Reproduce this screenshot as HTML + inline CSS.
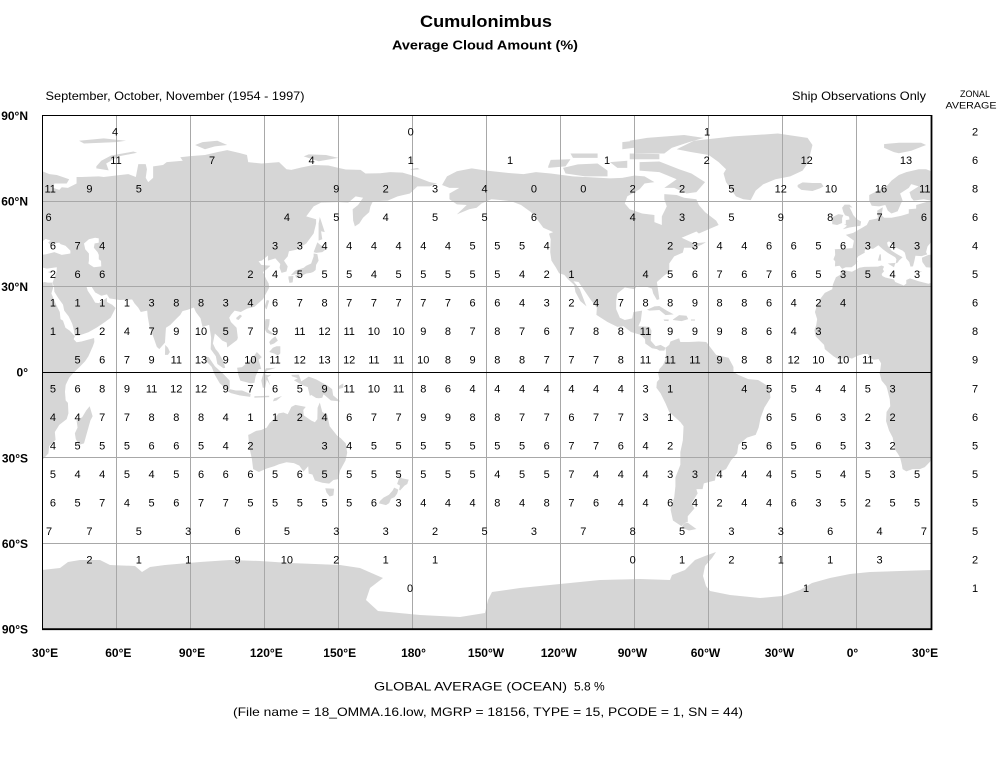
<!DOCTYPE html>
<html><head><meta charset="utf-8"><title>Cumulonimbus</title>
<style>
html,body{margin:0;padding:0;background:#fff;}
svg{display:block;}
text{font-family:"Liberation Sans",Arial,sans-serif;}
.n{font-size:11px;fill:#000;text-anchor:middle;}
.b{font-size:12px;font-weight:bold;fill:#000;}
.land{fill:#d6d6d6;}
</style></head>
<body>
<svg width="998" height="760" viewBox="0 0 998 760" xmlns="http://www.w3.org/2000/svg">
<defs>
<clipPath id="mc"><rect x="42" y="115" width="889" height="514"/></clipPath>
<g id="world" class="land">
<polygon points="-168,65.5 -166,68.5 -162,70.3 -156,71.3 -150,70.5 -141,69.7 -135,69.3 -130,70 -124,69.5 -115,68.5 -108,68.2 -100,67.8 -95,68 -90,68.8 -86,68.5 -82,66.5 -86,66 -88,64 -93,61.5 -94,59 -92,57 -87,55.5 -82,55 -82,52.5 -79,51.5 -79,54.5 -77,58 -78,60.5 -78,62.3 -73,62 -70,61 -65,60.5 -64,58.5 -61.5,56 -57,53 -56,51.5 -60,50 -64,48.5 -65,49.2 -71,47 -66,45 -61,45.5 -60,46 -63,44.5 -66,43.5 -70,43.5 -70.5,41.8 -74,40.5 -76,38 -76,35 -78,33.8 -81,31.5 -80.5,28.5 -80,25.5 -81,25.2 -82.5,27.5 -83,29.2 -85,29.8 -89,30.2 -90,29 -94,29.6 -97,27.5 -97.5,25 -97.5,22 -96,19 -94,18.2 -91,18.8 -90.5,21 -87,21.5 -87.5,18 -88.5,16 -84,15.8 -83.2,14.5 -83.5,11 -81.5,9 -79.5,9.5 -77.5,8.5 -78,7.5 -80,7.5 -81,8 -83,8.3 -85.7,10 -85.8,11.5 -87.5,13 -91.5,14 -94.5,16 -97,15.8 -101,17.5 -105.5,20 -105.3,22.5 -108,25.5 -112.7,31.5 -114.8,31.8 -112.2,29 -110,24 -109.5,23 -112,24.8 -114,28 -114.5,30.5 -117,32.5 -118.5,34 -120.6,34.6 -121.9,36.6 -123.7,39 -124.2,42 -124,46.5 -124.7,48.4 -123,49 -127,50.5 -130,54 -132,56 -136,58.5 -140,59.8 -144,60.2 -148,60.5 -152,59 -154,57.5 -157,57 -162,55.2 -158,58.5 -162,58.7 -165,60.5 -165,62.5 -161,64.5 -165,64.5"/>
<polygon points="-73,78 -66,81 -50,82.5 -32,83.5 -20,82 -18,79.5 -19,76 -20,73 -22,70.5 -27,68.5 -33,67.5 -38,65.7 -41,63.5 -43,60.2 -46,60.5 -49,61.5 -51,64 -53,66.5 -54,69.5 -53,71 -56,73.5 -60,76 -67,77"/>
<polygon points="-61.5,66.5 -65,63 -69,62.5 -74,64.5 -78,64.5 -73,67.5 -80,70 -88,70.5 -88,73.5 -80,73.7 -72,71 -67,69.5"/>
<polygon points="-118,69.5 -110,68.5 -101,68.5 -101,70.5 -105,73 -113,72.7 -119,71.5"/>
<polygon points="-125,72 -124,74.3 -116,74.5 -118,72 -125,71.5"/>
<polygon points="-90,76.5 -78,76.5 -75,78.5 -68,80.5 -62,82 -70,83 -85,82 -92,81 -90,78"/>
<polygon points="-92,74.5 -80,74.5 -80,76.3 -92,76.5"/>
<polygon points="-97,71.5 -93,71.5 -93,74 -100,73.5"/>
<polygon points="-115,75 -105,75 -105,76.5 -116,76.5"/>
<polygon points="-95,78 -86,79 -90,81 -95,80.5"/>
<polygon points="-77.5,8.5 -76,9.5 -75.5,10.7 -72,11.8 -71.5,10.5 -68,10.5 -64,10.7 -61,10.5 -57,6 -52,5 -50,1.8 -50,0 -48,-1 -44,-2.5 -40,-2.8 -35.5,-5.2 -35,-9 -37.5,-12.5 -39,-16 -39.8,-19.5 -41,-22 -44.5,-23 -48,-25.5 -48.5,-28.5 -51,-31 -53,-34 -57,-35.5 -57.5,-38 -62,-39 -62.5,-41 -65,-41 -64.5,-42.5 -67,-46 -65.8,-47.8 -68.5,-50.5 -68.5,-52.5 -70,-53 -71,-54 -74.5,-52 -75.5,-48 -74,-44 -73.5,-40 -73.5,-37 -71.5,-32.5 -71.5,-28 -70.5,-24 -70.2,-19 -71.5,-17.5 -76,-14 -77.5,-11 -79.5,-7.5 -81.2,-5.5 -81,-3.5 -80,-2.5 -80.5,-0.5 -80,1 -78.5,2.5 -77.5,4.5 -77.3,7"/>
<polygon points="-68.5,-52.8 -65,-55 -68,-55.5 -71,-54.5 -70,-53"/>
<polygon points="-85,21.8 -82,23 -80,23.1 -77,21.5 -74.2,20.2 -77.5,19.9 -80,21.7 -84,21.5"/>
<polygon points="-74.5,18.4 -72,19.9 -69,19.7 -68.3,18.5 -71,17.8 -74.5,18.2"/>
<polygon points="-78.3,18.4 -76.2,18.4 -76.3,17.8 -78,17.9"/>
<polygon points="-67.2,18.4 -65.6,18.4 -65.6,18 -67.2,18"/>
<polygon points="-24,65.5 -22,66.4 -18,66.2 -14.5,66.2 -13.5,65 -15,64.3 -18,63.4 -22.5,63.8 -24,64.8"/>
<polygon points="-5.7,50 -3,50.6 1.4,51.2 1.7,52.7 0,53.5 -1.5,55 -2,56 -3,57.7 -1.8,57.6 -3,58.6 -5,58.6 -6,57.5 -5.5,56 -4.8,54.9 -3.2,54.4 -3,53.4 -4.5,53.2 -4.5,51.7 -5.3,51.7 -4,51.2"/>
<polygon points="-6,52.2 -6,53.9 -5.5,55 -7.5,55.3 -10,54.2 -10,51.8 -8,51.5"/>
<polygon points="-9,43 -1.8,43.4 -1.2,46 -4.5,48 -1.5,48.7 1.5,50.2 4,51.5 5,53.2 8.5,53.8 8.2,56.5 10.5,57.7 10,55 11,54 14,54 18,54.7 21,55.5 21,57 24,57.2 24,58.5 28,59.5 30,60 27,60.5 23,60 22,61 21.3,63 25,65 22,65.8 21,64.5 17.5,62.5 18.5,60 18,59.3 16.5,56.3 14,55.5 12.5,56.5 11.5,58.5 9,58 6,58.2 5,60 5,62 8,63.3 12,65 14,67 17,69 20,70 25,71 28,71 31,70 33,69.3 36,69 41,67.5 40,66 35,66 34.5,64.5 37,63.8 38,64.7 40.5,64.5 44,66 44,68.3 46,68.3 53,68.5 55,68.3 60,68.8 65,69.3 68,68.3 69,72.8 72,72.8 72.5,71 72,68 73,66.5 75,68 75,72 79,72.5 80.5,73.5 87,74 86,75.2 90,75.6 96,76 101,77 105,77.7 110,76.7 113,76 113.5,73.5 119,73 126,73.5 129,71 131,70.8 135,71.6 140,72.5 146,72.3 150,71.5 153,70.9 159,70.8 161,69.5 167,69.6 171,70 176,69.8 180,68.8 184,67.5 187,66.5 190,66 187,65 182,65 179,62.5 174,61.5 170,60 164,59.8 163,58 162.5,56 160,54 158.5,52 156.7,51 156,53 155.8,57 158,58.5 160,61 157,61.5 154,59.3 150,59.5 143,59.3 140,58 137,54.5 141,53.5 141,52 140,48.5 137,45 133,42.8 130,42.3 129.5,40.5 128,39 129.5,37 129,35.2 127,34.7 126.2,36.5 126.5,37.8 124.5,39.8 121.5,39 121.5,40.8 119,39 117.7,38.8 118.8,37.5 122.5,37.2 121,36 119.5,35 120.8,32.5 121.8,31 122,29.5 119.5,25.5 116,22.8 113,22.2 110.5,21 108,21.5 106.5,20 105.8,19 106.5,17.5 108.8,15.5 109.3,12 109,11.2 105,8.6 104.8,10.3 103,11 101,12.7 100,13.5 99.2,10 100.3,8 101.5,6.8 103.3,4 104.2,1.5 103.5,1.3 101,2.8 100.4,5.5 98.3,8 98.5,12 97.7,16.5 95,15.8 94.2,18.8 92.3,21 91.5,22.6 89,21.8 86.9,21.3 86,20 84,18.3 82,16.5 80.2,15.5 80,13 79.8,10.3 77.5,8 76.5,8.8 75,12.5 73.5,16 72.8,19.5 72.6,21.5 70,21 69,22.5 67.5,24 66.5,25.4 61.5,25.2 57.3,25.8 56.3,27.2 54,26.7 51.5,27.9 50,30 48,30 48.5,28.5 50.2,26.3 51.5,24.3 53,24.1 56.3,26 56.3,24.5 58.5,23.5 59.8,22.4 57.8,19 55.5,17.5 52.2,15.6 48.8,13.9 45,12.8 43.3,12.7 42.7,15.5 42.2,17 40.8,19.5 39,21.5 38.5,23.6 36.5,26 35,28.1 34.9,29.5 34.3,31.3 35,33 35.9,35 36,36.7 32,36.2 30.5,36.5 28,36.7 26.5,38.5 26.3,40 29,41 31.5,41.2 35,42 38,41 41.5,41.5 41.5,42.5 39.5,44.2 37.5,44.8 37,45.3 35.5,45.1 33.5,44.4 32.5,45.4 33.5,46 31.5,46.6 30.2,45.8 29.6,45 28.6,44 28,42 28.5,41.2 26.2,40.6 23.7,40.7 23.3,39 22.7,37 21.7,36.9 21.2,38.5 20,39.7 19.4,41.8 18.5,42.5 16,43.5 13.8,45.1 13,45.8 12.2,45.3 12.5,44.2 14,42.5 16,41.4 18.5,40.2 17,39 16.6,38.4 15.7,38 16,39.5 15.5,40.2 12.5,41.7 10.5,43 8.7,44.4 6.5,43.1 4,43.5 3.1,42.4 3.2,41.8 0.5,40.5 -0.3,39.4 0.2,38.7 -0.7,37.6 -2.2,36.7 -4.5,36.7 -6,36.1 -7,37.2 -8.9,37 -8.8,38.7 -9.5,39.5 -8.8,41 -8.9,42.7"/>
<polygon points="52,71.3 57,70.6 56,73 61,75.5 68.5,76.8 67,77.2 58,75.8 54,74 52,72"/>
<polygon points="96,78 100,79 105,79.5 101,81 95,80.5 92,79.5"/>
<polygon points="11,78.5 15,77 17,76.6 22,77.5 28,79.5 26,80.3 17,80.3 11,79.8"/>
<polygon points="47,80 60,80.5 64,81 55,81.8 45,81"/>
<polygon points="136,75.5 142,73.8 150,75 145,76 138,76.2"/>
<polygon points="179,71 182,71.5 183,71 180,70.8"/>
<polygon points="130.9,34 132.5,35.5 136,36.5 137,37.2 139,38 140,40.5 140,41.5 141.5,41.3 142,39 141,37.5 140.8,35.7 139.8,35 138.8,34.7 137,34.5 135,33.6 133,34.3 131,33.9"/>
<polygon points="129.8,33.5 131.8,33.6 131.5,31.4 130.2,31.2 129.8,32.8"/>
<polygon points="132.5,33.9 134.5,34.2 134.5,33.3 133,33"/>
<polygon points="140,42 141.5,45.4 143,44.3 145.5,43.3 143.5,42 141,41.7"/>
<polygon points="142,46 143.5,46.5 143,49.3 144.5,49 143,53 142.5,54.3 142,52 142,49"/>
<polygon points="120.2,23 121,25.2 122,25 121,22 120.7,22"/>
<polygon points="108.7,19 110.2,20.1 111,19.6 109.6,18.2 108.7,18.5"/>
<polygon points="79.8,6 79.9,9.5 81,8.5 81.8,7 81,6"/>
<polygon points="120,16 120.5,18.5 122.2,18.5 122,16.5 121.5,15 124,13 122.5,13.2 121,13.8 120.5,14.5"/>
<polygon points="122,7 123.5,8.5 125,9 126.5,9 126.5,6.5 125.5,5.8 124,6.5"/>
<polygon points="122,10.5 123,11.5 124.5,12.5 125.5,11 124,10 122.5,9.5"/>
<polygon points="95.3,5.5 97.5,5.2 100,2 103.8,-1 106,-3 106,-5.8 104.5,-5.8 102,-4 100,-1 98.7,1.8 96.5,3.8"/>
<polygon points="105.2,-6.8 106,-6 108.5,-6.5 111,-6.5 114.5,-7.7 114.3,-8.7 110,-8.2 106.5,-7.4"/>
<polygon points="109,1.5 109.5,-1 110.3,-3 114.5,-4 116,-3.8 116.5,-1.5 117.8,1 118.8,1 117.7,4.3 119,5.2 117,7 115.5,5.2 113,3.2 111,1.7"/>
<polygon points="119.4,-5.5 118.8,-3 119.8,0 120.7,1.3 124.8,1.5 121,0.5 120.2,-0.8 121.5,-1.1 123,-0.9 121.3,-1.9 122.5,-4.8 121,-2.7 120.4,-5.5"/>
<polygon points="131,-1 134,-0.9 135,-3.3 138,-1.6 141,-2.6 145.7,-4.8 147.5,-6 147.9,-8.2 150.8,-10.3 147,-10 144,-7.8 143.5,-9 142.2,-9.2 141,-9.1 139,-8 138.5,-8.4 137.6,-5.3 135.2,-4.5 132,-2.9 133.6,-2.2 131.2,-1.5"/>
<polygon points="124,-9.3 127.2,-8.4 125,-10 123.5,-10.3"/>
<polygon points="116,-8.5 122,-8.3 122,-8.8 116,-9"/>
<polygon points="150,-5 152,-4 152,-5.5 150,-6"/>
<polygon points="113.5,-22 114,-26.5 115,-30.5 115.5,-34 117.8,-35 121,-33.8 124,-33 126,-32.3 129,-31.6 132,-31.9 134.2,-32.8 135.9,-34.9 137.8,-33 138,-35.6 139.5,-35.9 140.5,-38 143.5,-38.8 146.3,-39.1 148,-37.8 150,-37.5 150.7,-34.5 152.9,-31 153.6,-28.3 153,-25 151,-23.2 149.5,-22.3 146.5,-19 145.5,-15 143.5,-14 142.5,-10.7 141.6,-12.5 141.5,-16.5 140.5,-17.6 139,-17 136,-15.2 135.8,-13.3 136.8,-12.2 132.6,-11.5 131,-12.2 129.5,-14.8 127.8,-14.2 125.8,-14.5 124,-16.4 122.2,-17.8 121,-19.5 118.8,-20.3 116.7,-20.6 114.2,-21.8"/>
<polygon points="144.7,-40.7 148.3,-40.9 148,-43.2 146.5,-43.6 145.2,-42.2"/>
<polygon points="172.7,-34.4 174.5,-36 175.7,-37.2 178.5,-37.7 177.9,-39.2 176.8,-39.8 175,-41.5 174.6,-41.2 175,-39.8 173.8,-39.2 174.6,-37.2"/>
<polygon points="172.6,-40.5 174.3,-41.2 173.8,-42.6 172.8,-43.8 171.3,-44.4 170.6,-45.9 169.3,-46.6 166.5,-46 166.8,-45.2 168.3,-44 170.5,-43 172,-41.5"/>
<polygon points="49.3,-12 50.5,-15.5 49.6,-17 47,-25 45,-25.5 43.7,-23.5 43.3,-21.5 44.4,-19.5 44,-17 46.3,-15.8 47.9,-13.5"/>
<polygon points="-5.9,35.8 -2,35.1 1,36.5 3,36.8 8.5,36.9 10,37.3 11,36.9 10.5,36 11,35.3 10,34.3 10.3,33.6 11.5,33.1 15,32.4 15.5,31.5 19,30.3 20,31 20,32.2 21.5,32.8 25,31.8 29,30.9 31,31.5 32.3,31.3 34.2,31.3 34.5,29.5 33.8,27.5 35.5,24 37.2,21 37.5,18.5 38.5,18 39.5,15.5 41.2,14.5 43.3,12.5 42.8,11.5 44,10.4 46,10.7 51.1,11.9 51.2,10.5 50.6,9 48.8,5.5 47.5,3.8 45.5,2 42.5,-0.5 41,-2 39.6,-4.5 39.3,-6.9 39.6,-10 40.5,-10.8 40.7,-14.5 40,-16.5 37,-18.5 35.2,-21 35.5,-23.8 32.9,-25.9 32.6,-28.5 31,-30 29.5,-31.5 27.5,-33.3 25.5,-34 22.5,-34 20,-34.8 18.5,-34 18.2,-32.5 17.5,-30 16.5,-28.5 15.3,-27 14.5,-23 13,-20.5 11.8,-17.2 12,-14 13.5,-12 13.3,-9.5 12.3,-6.1 11.9,-5 10,-3 9.2,-0.5 9.5,1 9.8,3 8.8,4.5 6.8,4.3 5.5,4.9 4.5,6.3 2.5,6.3 0,5.6 -2,4.7 -4,5.2 -7.5,4.4 -9.5,5.5 -11.5,6.9 -13,8 -13.3,9.5 -15,11 -16.7,12.5 -17.2,14.7 -16.5,16.3 -16.1,18.5 -16.5,19.6 -17,21 -16,23.8 -14.5,26 -13,27.7 -10,29 -9.7,30.7 -8.5,33.2 -6.8,34"/>
<polygon points="8.5,39 9.8,39 9.7,41.2 9.2,41.2"/>
<polygon points="12.5,38 15.6,38.2 15,36.7"/>
<polygon points="23.5,35.3 26.3,35.2 26,35 23.6,35"/>
<polygon points="32.3,35 34.6,35.6 33.5,34.6"/>
<polygon points="47,45 49,46.5 51.5,47 53,46.8 53,45.3 51.3,45 51,43.5 52.5,42 53,41 53,39.5 53.9,38.9 54,37 51,36.7 49.5,37.5 48.8,38 49,39 49,41.5 47.5,43" fill="#fff"/>
</g>
</defs>

<rect width="998" height="760" fill="#fff"/>

<g clip-path="url(#mc)">
<use href="#world" transform="matrix(2.46944 0 0 -2.85556 -32.083 372)"/>
<use href="#world" transform="matrix(2.46944 0 0 -2.85556 856.917 372)"/>
<polygon class="land" points="42,570 60,568 68,562 80,560 100,560 110,565 135,566 142,572 150,567 165,565 200,562 230,560 260,561 290,563 340,565 360,568 383,578 370,588 366,600 378,611 420,615 460,617 485,613 488,600 492,592 520,588 560,584 600,580 640,579 670,580 672,575 685,570 695,560 705,556 716,552 712,558 705,566 703,576 706,586 710,591 730,595 760,598 782,596 800,590 812,583 830,578 850,574 870,572 931,570 931,629 42,629"/>
<polygon fill="#fff" points="455,598 470,597 478,602 462,604"/>
</g>

<g stroke="#a8a8a8" stroke-width="1" fill="none">
<path d="M116.5 115V629M190.5 115V629M264.5 115V629M338.5 115V629M412.5 115V629M486.5 115V629M560.5 115V629M634.5 115V629M708.5 115V629M782.5 115V629M856.5 115V629"/>
<path d="M42 201.5H931M42 286.5H931M42 457.5H931M42 543.5H931"/>
</g>
<path d="M42 372.5H931" stroke="#000" stroke-width="1"/>
<path d="M42.5 629V115.5H931" stroke="#000" stroke-width="1" fill="none"/>
<path d="M931.5 115V629.2H42" stroke="#000" stroke-width="1.8" fill="none"/>

<text x="486" y="27" font-size="17" font-weight="bold" text-anchor="middle" textLength="132" lengthAdjust="spacingAndGlyphs">Cumulonimbus</text>
<text x="485" y="49.5" font-size="13" font-weight="bold" text-anchor="middle" textLength="186" lengthAdjust="spacingAndGlyphs">Average Cloud Amount (%)</text>

<text x="45.5" y="100" font-size="12" textLength="259" lengthAdjust="spacingAndGlyphs">September, October, November (1954 - 1997)</text>
<text x="792" y="100" font-size="12" textLength="134" lengthAdjust="spacingAndGlyphs">Ship Observations Only</text>
<text x="975" y="97" font-size="9" text-anchor="middle" textLength="30" lengthAdjust="spacingAndGlyphs">ZONAL</text>
<text x="971" y="108.5" font-size="9" text-anchor="middle" textLength="51" lengthAdjust="spacingAndGlyphs">AVERAGE</text>

<g class="b" text-anchor="end">
<text x="28" y="120">90°N</text>
<text x="28" y="205.3">60°N</text>
<text x="28" y="291">30°N</text>
<text x="28" y="376.6">0°</text>
<text x="28" y="462.6">30°S</text>
<text x="28" y="547.8">60°S</text>
<text x="28" y="633.3">90°S</text>
</g>
<g class="b" text-anchor="middle">
<text x="45" y="657">30°E</text>
<text x="118.3" y="657">60°E</text>
<text x="192" y="657">90°E</text>
<text x="266.3" y="657">120°E</text>
<text x="339.7" y="657">150°E</text>
<text x="413.5" y="657">180°</text>
<text x="486" y="657">150°W</text>
<text x="558.8" y="657">120°W</text>
<text x="632.5" y="657">90°W</text>
<text x="705.5" y="657">60°W</text>
<text x="779.5" y="657">30°W</text>
<text x="852.5" y="657">0°</text>
<text x="925" y="657">30°E</text>
</g>

<text x="374" y="690.5" font-size="12" textLength="193" lengthAdjust="spacingAndGlyphs">GLOBAL AVERAGE (OCEAN)</text>
<text x="574" y="690.5" font-size="12">5.8 %</text>
<text x="233" y="716" font-size="12" textLength="510" lengthAdjust="spacingAndGlyphs">(File name = 18_OMMA.16.low, MGRP = 18156, TYPE = 15, PCODE = 1, SN = 44)</text>

<g class="n">
<text x="975" y="135.3">2</text>
<text x="975" y="163.8">6</text>
<text x="975" y="192.4">8</text>
<text x="975" y="220.9">6</text>
<text x="975" y="249.5">4</text>
<text x="975" y="278.1">5</text>
<text x="975" y="306.6">6</text>
<text x="975" y="335.2">8</text>
<text x="975" y="363.7">9</text>
<text x="975" y="392.3">7</text>
<text x="975" y="420.9">6</text>
<text x="975" y="449.4">5</text>
<text x="975" y="478">5</text>
<text x="975" y="506.6">5</text>
<text x="975" y="535.1">5</text>
<text x="975" y="563.7">2</text>
<text x="975" y="592.2">1</text>
</g>

<g class="n">
<text y="135.3"><tspan x="115">4</tspan><tspan x="410.7">0</tspan><tspan x="707">1</tspan></text>
<text y="163.8"><tspan x="116">11</tspan><tspan x="212">7</tspan><tspan x="311.5">4</tspan><tspan x="410.7">1</tspan><tspan x="510">1</tspan><tspan x="607">1</tspan><tspan x="706.7">2</tspan><tspan x="806.7">12</tspan><tspan x="906">13</tspan></text>
<text y="192.4"><tspan x="89.4">9</tspan><tspan x="138.8">5</tspan><tspan x="336.3">9</tspan><tspan x="385.7">2</tspan><tspan x="435.1">3</tspan><tspan x="484.5">4</tspan><tspan x="533.9">0</tspan><tspan x="583.3">0</tspan><tspan x="632.7">2</tspan><tspan x="682.1">2</tspan><tspan x="731.4">5</tspan><tspan x="780.8">12</tspan><tspan x="831">10</tspan><tspan x="881">16</tspan></text>
<text y="220.9"><tspan x="286.9">4</tspan><tspan x="336.3">5</tspan><tspan x="385.7">4</tspan><tspan x="435.1">5</tspan><tspan x="484.5">5</tspan><tspan x="533.9">6</tspan><tspan x="632.7">4</tspan><tspan x="682.1">3</tspan><tspan x="731.4">5</tspan><tspan x="780.8">9</tspan><tspan x="830.2">8</tspan><tspan x="879.6">7</tspan></text>
<text y="249.5"><tspan x="52.9">6</tspan><tspan x="77.5">7</tspan><tspan x="102.2">4</tspan><tspan x="275.1">3</tspan><tspan x="299.8">3</tspan><tspan x="324.5">4</tspan><tspan x="349.2">4</tspan><tspan x="373.9">4</tspan><tspan x="398.6">4</tspan><tspan x="423.3">4</tspan><tspan x="447.9">4</tspan><tspan x="472.6">5</tspan><tspan x="497.3">5</tspan><tspan x="522">5</tspan><tspan x="546.7">4</tspan><tspan x="670.2">2</tspan><tspan x="694.9">3</tspan><tspan x="719.6">4</tspan><tspan x="744.3">4</tspan><tspan x="769">6</tspan><tspan x="793.7">6</tspan><tspan x="818.4">5</tspan><tspan x="843.1">6</tspan><tspan x="867.8">3</tspan><tspan x="892.5">4</tspan><tspan x="917.1">3</tspan></text>
<text y="278.1"><tspan x="52.9">2</tspan><tspan x="77.5">6</tspan><tspan x="102.2">6</tspan><tspan x="250.4">2</tspan><tspan x="275.1">4</tspan><tspan x="299.8">5</tspan><tspan x="324.5">5</tspan><tspan x="349.2">5</tspan><tspan x="373.9">4</tspan><tspan x="398.6">5</tspan><tspan x="423.3">5</tspan><tspan x="447.9">5</tspan><tspan x="472.6">5</tspan><tspan x="497.3">5</tspan><tspan x="522">4</tspan><tspan x="546.7">2</tspan><tspan x="571.4">1</tspan><tspan x="645.5">4</tspan><tspan x="670.2">5</tspan><tspan x="694.9">6</tspan><tspan x="719.6">7</tspan><tspan x="744.3">6</tspan><tspan x="769">7</tspan><tspan x="793.7">6</tspan><tspan x="818.4">5</tspan><tspan x="843.1">3</tspan><tspan x="867.8">5</tspan><tspan x="892.5">4</tspan><tspan x="917.1">3</tspan></text>
<text y="306.6"><tspan x="52.9">1</tspan><tspan x="77.5">1</tspan><tspan x="102.2">1</tspan><tspan x="126.9">1</tspan><tspan x="151.6">3</tspan><tspan x="176.3">8</tspan><tspan x="201">8</tspan><tspan x="225.7">3</tspan><tspan x="250.4">4</tspan><tspan x="275.1">6</tspan><tspan x="299.8">7</tspan><tspan x="324.5">8</tspan><tspan x="349.2">7</tspan><tspan x="373.9">7</tspan><tspan x="398.6">7</tspan><tspan x="423.3">7</tspan><tspan x="447.9">7</tspan><tspan x="472.6">6</tspan><tspan x="497.3">6</tspan><tspan x="522">4</tspan><tspan x="546.7">3</tspan><tspan x="571.4">2</tspan><tspan x="596.1">4</tspan><tspan x="620.8">7</tspan><tspan x="645.5">8</tspan><tspan x="670.2">8</tspan><tspan x="694.9">9</tspan><tspan x="719.6">8</tspan><tspan x="744.3">8</tspan><tspan x="769">6</tspan><tspan x="793.7">4</tspan><tspan x="818.4">2</tspan><tspan x="843.1">4</tspan></text>
<text y="335.2"><tspan x="52.9">1</tspan><tspan x="77.5">1</tspan><tspan x="102.2">2</tspan><tspan x="126.9">4</tspan><tspan x="151.6">7</tspan><tspan x="176.3">9</tspan><tspan x="201">10</tspan><tspan x="225.7">5</tspan><tspan x="250.4">7</tspan><tspan x="275.1">9</tspan><tspan x="299.8">11</tspan><tspan x="324.5">12</tspan><tspan x="349.2">11</tspan><tspan x="373.9">10</tspan><tspan x="398.6">10</tspan><tspan x="423.3">9</tspan><tspan x="447.9">8</tspan><tspan x="472.6">7</tspan><tspan x="497.3">8</tspan><tspan x="522">7</tspan><tspan x="546.7">6</tspan><tspan x="571.4">7</tspan><tspan x="596.1">8</tspan><tspan x="620.8">8</tspan><tspan x="645.5">11</tspan><tspan x="670.2">9</tspan><tspan x="694.9">9</tspan><tspan x="719.6">9</tspan><tspan x="744.3">8</tspan><tspan x="769">6</tspan><tspan x="793.7">4</tspan><tspan x="818.4">3</tspan></text>
<text y="363.7"><tspan x="77.5">5</tspan><tspan x="102.2">6</tspan><tspan x="126.9">7</tspan><tspan x="151.6">9</tspan><tspan x="176.3">11</tspan><tspan x="201">13</tspan><tspan x="225.7">9</tspan><tspan x="250.4">10</tspan><tspan x="275.1">11</tspan><tspan x="299.8">12</tspan><tspan x="324.5">13</tspan><tspan x="349.2">12</tspan><tspan x="373.9">11</tspan><tspan x="398.6">11</tspan><tspan x="423.3">10</tspan><tspan x="447.9">8</tspan><tspan x="472.6">9</tspan><tspan x="497.3">8</tspan><tspan x="522">8</tspan><tspan x="546.7">7</tspan><tspan x="571.4">7</tspan><tspan x="596.1">7</tspan><tspan x="620.8">8</tspan><tspan x="645.5">11</tspan><tspan x="670.2">11</tspan><tspan x="694.9">11</tspan><tspan x="719.6">9</tspan><tspan x="744.3">8</tspan><tspan x="769">8</tspan><tspan x="793.7">12</tspan><tspan x="818.4">10</tspan><tspan x="843.1">10</tspan><tspan x="867.8">11</tspan></text>
<text y="392.3"><tspan x="52.9">5</tspan><tspan x="77.5">6</tspan><tspan x="102.2">8</tspan><tspan x="126.9">9</tspan><tspan x="151.6">11</tspan><tspan x="176.3">12</tspan><tspan x="201">12</tspan><tspan x="225.7">9</tspan><tspan x="250.4">7</tspan><tspan x="275.1">6</tspan><tspan x="299.8">5</tspan><tspan x="324.5">9</tspan><tspan x="349.2">11</tspan><tspan x="373.9">10</tspan><tspan x="398.6">11</tspan><tspan x="423.3">8</tspan><tspan x="447.9">6</tspan><tspan x="472.6">4</tspan><tspan x="497.3">4</tspan><tspan x="522">4</tspan><tspan x="546.7">4</tspan><tspan x="571.4">4</tspan><tspan x="596.1">4</tspan><tspan x="620.8">4</tspan><tspan x="645.5">3</tspan><tspan x="670.2">1</tspan><tspan x="744.3">4</tspan><tspan x="769">5</tspan><tspan x="793.7">5</tspan><tspan x="818.4">4</tspan><tspan x="843.1">4</tspan><tspan x="867.8">5</tspan><tspan x="892.5">3</tspan></text>
<text y="420.9"><tspan x="52.9">4</tspan><tspan x="77.5">4</tspan><tspan x="102.2">7</tspan><tspan x="126.9">7</tspan><tspan x="151.6">8</tspan><tspan x="176.3">8</tspan><tspan x="201">8</tspan><tspan x="225.7">4</tspan><tspan x="250.4">1</tspan><tspan x="275.1">1</tspan><tspan x="299.8">2</tspan><tspan x="324.5">4</tspan><tspan x="349.2">6</tspan><tspan x="373.9">7</tspan><tspan x="398.6">7</tspan><tspan x="423.3">9</tspan><tspan x="447.9">9</tspan><tspan x="472.6">8</tspan><tspan x="497.3">8</tspan><tspan x="522">7</tspan><tspan x="546.7">7</tspan><tspan x="571.4">6</tspan><tspan x="596.1">7</tspan><tspan x="620.8">7</tspan><tspan x="645.5">3</tspan><tspan x="670.2">1</tspan><tspan x="769">6</tspan><tspan x="793.7">5</tspan><tspan x="818.4">6</tspan><tspan x="843.1">3</tspan><tspan x="867.8">2</tspan><tspan x="892.5">2</tspan></text>
<text y="449.4"><tspan x="52.9">4</tspan><tspan x="77.5">5</tspan><tspan x="102.2">5</tspan><tspan x="126.9">5</tspan><tspan x="151.6">6</tspan><tspan x="176.3">6</tspan><tspan x="201">5</tspan><tspan x="225.7">4</tspan><tspan x="250.4">2</tspan><tspan x="324.5">3</tspan><tspan x="349.2">4</tspan><tspan x="373.9">5</tspan><tspan x="398.6">5</tspan><tspan x="423.3">5</tspan><tspan x="447.9">5</tspan><tspan x="472.6">5</tspan><tspan x="497.3">5</tspan><tspan x="522">5</tspan><tspan x="546.7">6</tspan><tspan x="571.4">7</tspan><tspan x="596.1">7</tspan><tspan x="620.8">6</tspan><tspan x="645.5">4</tspan><tspan x="670.2">2</tspan><tspan x="744.3">5</tspan><tspan x="769">6</tspan><tspan x="793.7">5</tspan><tspan x="818.4">6</tspan><tspan x="843.1">5</tspan><tspan x="867.8">3</tspan><tspan x="892.5">2</tspan></text>
<text y="478"><tspan x="52.9">5</tspan><tspan x="77.5">4</tspan><tspan x="102.2">4</tspan><tspan x="126.9">5</tspan><tspan x="151.6">4</tspan><tspan x="176.3">5</tspan><tspan x="201">6</tspan><tspan x="225.7">6</tspan><tspan x="250.4">6</tspan><tspan x="275.1">5</tspan><tspan x="299.8">6</tspan><tspan x="324.5">5</tspan><tspan x="349.2">5</tspan><tspan x="373.9">5</tspan><tspan x="398.6">5</tspan><tspan x="423.3">5</tspan><tspan x="447.9">5</tspan><tspan x="472.6">5</tspan><tspan x="497.3">4</tspan><tspan x="522">5</tspan><tspan x="546.7">5</tspan><tspan x="571.4">7</tspan><tspan x="596.1">4</tspan><tspan x="620.8">4</tspan><tspan x="645.5">4</tspan><tspan x="670.2">3</tspan><tspan x="694.9">3</tspan><tspan x="719.6">4</tspan><tspan x="744.3">4</tspan><tspan x="769">4</tspan><tspan x="793.7">5</tspan><tspan x="818.4">5</tspan><tspan x="843.1">4</tspan><tspan x="867.8">5</tspan><tspan x="892.5">3</tspan><tspan x="917.1">5</tspan></text>
<text y="506.6"><tspan x="52.9">6</tspan><tspan x="77.5">5</tspan><tspan x="102.2">7</tspan><tspan x="126.9">4</tspan><tspan x="151.6">5</tspan><tspan x="176.3">6</tspan><tspan x="201">7</tspan><tspan x="225.7">7</tspan><tspan x="250.4">5</tspan><tspan x="275.1">5</tspan><tspan x="299.8">5</tspan><tspan x="324.5">5</tspan><tspan x="349.2">5</tspan><tspan x="373.9">6</tspan><tspan x="398.6">3</tspan><tspan x="423.3">4</tspan><tspan x="447.9">4</tspan><tspan x="472.6">4</tspan><tspan x="497.3">8</tspan><tspan x="522">4</tspan><tspan x="546.7">8</tspan><tspan x="571.4">7</tspan><tspan x="596.1">6</tspan><tspan x="620.8">4</tspan><tspan x="645.5">4</tspan><tspan x="670.2">6</tspan><tspan x="694.9">4</tspan><tspan x="719.6">2</tspan><tspan x="744.3">4</tspan><tspan x="769">4</tspan><tspan x="793.7">6</tspan><tspan x="818.4">3</tspan><tspan x="843.1">5</tspan><tspan x="867.8">2</tspan><tspan x="892.5">5</tspan><tspan x="917.1">5</tspan></text>
<text y="535.1"><tspan x="89.4">7</tspan><tspan x="138.8">5</tspan><tspan x="188.2">3</tspan><tspan x="237.6">6</tspan><tspan x="286.9">5</tspan><tspan x="336.3">3</tspan><tspan x="385.7">3</tspan><tspan x="435.1">2</tspan><tspan x="484.5">5</tspan><tspan x="533.9">3</tspan><tspan x="583.3">7</tspan><tspan x="632.7">8</tspan><tspan x="682.1">5</tspan><tspan x="731.4">3</tspan><tspan x="780.8">3</tspan><tspan x="830.2">6</tspan><tspan x="879.6">4</tspan></text>
<text y="563.7"><tspan x="89.4">2</tspan><tspan x="138.8">1</tspan><tspan x="188.2">1</tspan><tspan x="237.6">9</tspan><tspan x="286.9">10</tspan><tspan x="336.3">2</tspan><tspan x="385.7">1</tspan><tspan x="435.1">1</tspan><tspan x="632.7">0</tspan><tspan x="682.1">1</tspan><tspan x="731.4">2</tspan><tspan x="780.8">1</tspan><tspan x="830.2">1</tspan><tspan x="879.6">3</tspan></text>
<text y="592.2"><tspan x="410">0</tspan><tspan x="806">1</tspan></text>
</g>
<g font-size="11">
<text x="44.5" y="192.4">11</text>
<text x="45.5" y="220.9">6</text>
<text x="46" y="535.1">7</text>
</g>
<g font-size="11" text-anchor="end">
<text x="930.5" y="192.4">11</text>
<text x="927" y="220.9">6</text>
<text x="927" y="535.1">7</text>
</g>
</svg>
</body></html>
